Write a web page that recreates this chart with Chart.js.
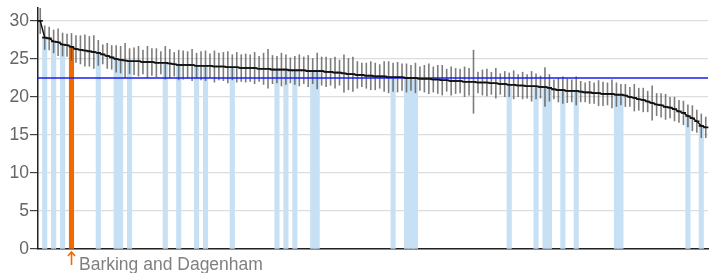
<!DOCTYPE html>
<html>
<head>
<meta charset="utf-8">
<script src="https://cdn.jsdelivr.net/npm/chart.js@4.4.1/dist/chart.umd.min.js"></script>
<style>
  html, body { margin: 0; padding: 0; background: #fff; }
  #wrap { width: 716px; height: 273px; position: relative; }
</style>
</head>
<body>
<div id="wrap"><canvas id="rateChart"></canvas></div>
<script>
// values per area, sorted high -> low
const rates = [
  30.0, 27.8, 27.7, 27.3, 27.2, 26.9, 26.8, 26.6, 26.3, 26.2,
  26.1, 26.0, 25.9, 25.8, 25.6, 25.4, 25.2, 25.0, 24.9, 24.8,
  24.7, 24.7, 24.7, 24.6, 24.6, 24.6, 24.5, 24.5, 24.5, 24.4,
  24.3, 24.2, 24.2, 24.2, 24.2, 24.1, 24.1, 24.1, 24.1, 24.0,
  24.0, 24.0, 23.9, 23.9, 23.9, 23.8, 23.8, 23.8, 23.8, 23.7,
  23.7, 23.7, 23.6, 23.6, 23.6, 23.6, 23.5, 23.5, 23.5, 23.5,
  23.4, 23.4, 23.4, 23.4, 23.3, 23.3, 23.2, 23.2, 23.1, 23.0,
  23.0, 22.9, 22.9, 22.8, 22.8, 22.7, 22.7, 22.7, 22.6, 22.6,
  22.6, 22.6, 22.5, 22.5, 22.5, 22.4, 22.4, 22.4, 22.3, 22.3,
  22.2, 22.2, 22.1, 22.1, 22.1, 22.0, 22.0, 22.0, 21.9, 21.9,
  21.9, 21.8, 21.8, 21.7, 21.7, 21.6, 21.6, 21.5, 21.5, 21.4,
  21.4, 21.4, 21.3, 21.3, 21.2, 21.0, 20.9, 20.9, 20.8, 20.8,
  20.8, 20.7, 20.6, 20.6, 20.5, 20.5, 20.4, 20.4, 20.4, 20.3,
  20.3, 20.2, 20.0, 19.9, 19.7, 19.6, 19.4, 19.2, 19.0, 18.9,
  18.7, 18.6, 18.4, 18.1, 17.9, 17.5, 17.2, 16.8, 16.2, 16.0
];

// half width of each interval
const margins = [
  1.7, 1.6, 1.55, 1.55, 1.8, 1.55, 1.5, 1.8, 1.8, 1.9,
  2.1, 2.0, 2.2, 1.7, 1.3, 1.7, 1.6, 1.8, 1.8, 2.3,
  1.7, 1.8, 2.0, 1.6, 2.1, 1.8, 1.9, 1.5, 2.2, 1.9,
  1.6, 2.0, 1.9, 1.8, 2.1, 1.7, 1.9, 2.0, 1.6, 2.1,
  1.8, 1.9, 2.1, 1.7, 2.0, 1.8, 1.9, 1.8, 2.1, 1.7,
  2.1, 2.6, 1.9, 1.8, 2.2, 2.0, 1.7, 1.9, 2.1, 1.8,
  2.1, 1.7, 2.4, 1.9, 2.0, 1.8, 2.1, 1.7, 2.5, 2.1,
  2.3, 1.8, 1.6, 1.7, 1.9, 1.8, 1.6, 2.0, 2.1, 1.9,
  2.0, 1.8, 1.9, 1.7, 2.0, 1.6, 1.8, 2.0, 1.7, 1.9,
  2.0, 1.5, 1.9, 1.7, 1.6, 2.0, 1.8, 4.2, 1.4, 1.7,
  1.8, 1.5, 2.0, 1.4, 1.7, 1.6, 1.9, 1.5, 1.8, 1.6,
  2.0, 1.7, 1.5, 2.6, 1.8, 1.3, 1.6, 1.8, 1.6, 1.5,
  1.9, 1.4, 1.3, 1.5, 1.4, 1.7, 1.6, 1.5, 1.9, 1.6,
  1.4, 1.5, 1.3, 1.8, 1.5, 1.6, 1.4, 2.3, 1.5, 1.6,
  1.7, 1.4, 1.6, 1.5, 1.6, 1.5, 1.7, 1.5, 1.6, 1.4
];

// areas shown with a bar
const comparators = [
  1, 3, 5, 13, 17, 18, 20, 28, 31, 35, 37, 43, 53, 55, 57, 61, 62,
  79, 82, 83, 84, 105, 111, 113, 114, 117, 120, 129, 130, 145, 148
];

const focusArea = "Barking and Dagenham";
const focusIndex = 7;
const average = 22.5;
const yTicks = [0, 5, 10, 15, 20, 25, 30];
const yMax = 31.7;

const labels = rates.map((v, i) =>
  i === focusIndex ? focusArea : "area " + (i + 1)
);

const barColors = rates.map((v, i) => {
  if (i === focusIndex) return "#f06a00";
  if (comparators.includes(i)) return "#c8e0f4";
  return "rgba(0,0,0,0)";
});

/* =====================================
   error bars + average line
===================================== */
const extras = {
  id: "extras",
  afterDatasetDraw(chart, args) {
    if (args.index !== 0) return;
    const { ctx, chartArea } = chart;
    const x = chart.scales.x;
    const y = chart.scales.y;

    ctx.save();
    ctx.strokeStyle = "rgba(70,70,70,0.7)";
    ctx.lineWidth = 1.6;
    rates.forEach((v, i) => {
      const px = x.getPixelForValue(i);
      ctx.beginPath();
      ctx.moveTo(px, y.getPixelForValue(v - margins[i]));
      ctx.lineTo(px, y.getPixelForValue(v + margins[i]));
      ctx.stroke();
    });

    const py = y.getPixelForValue(average);
    ctx.strokeStyle = "#1c1cf0";
    ctx.lineWidth = 1.5;
    ctx.beginPath();
    ctx.moveTo(chartArea.left, py);
    ctx.lineTo(chartArea.right, py);
    ctx.stroke();
    ctx.restore();
  },
  afterDraw(chart) {
    // arrow + name under the highlighted bar
    const { ctx, chartArea } = chart;
    const px = chart.scales.x.getPixelForValue(focusIndex);
    const top = chartArea.bottom + 3;

    ctx.save();
    ctx.strokeStyle = "#f06a00";
    ctx.lineWidth = 1.6;
    ctx.beginPath();
    ctx.moveTo(px, top + 13);
    ctx.lineTo(px, top);
    ctx.moveTo(px - 3.5, top + 4);
    ctx.lineTo(px, top);
    ctx.lineTo(px + 3.5, top + 4);
    ctx.stroke();

    ctx.fillStyle = "#808080";
    ctx.font = "17.5px 'Liberation Sans', Arial, sans-serif";
    ctx.textBaseline = "alphabetic";
    ctx.fillText(focusArea, px + 7.5, 269.5);
    ctx.restore();
  }
};

const ctx = document.getElementById("rateChart").getContext("2d");

const chart = new Chart(ctx, {
  type: "bar",
  data: {
    labels: labels,
    datasets: [
      {
        type: "bar",
        data: rates,
        backgroundColor: barColors,
        barPercentage: 1,
        categoryPercentage: 1,
        order: 2
      },
      {
        type: "line",
        data: rates,
        borderColor: "#111",
        borderWidth: 1.5,
        pointStyle: "line",
        pointRadius: 2.6,
        pointBorderWidth: 1.6,
        pointBorderColor: "#111",
        tension: 0,
        order: 1
      }
    ]
  },
  options: {
    responsive: true,
    maintainAspectRatio: false,
    animation: false,
    layout: {
      padding: { top: 8, right: 8, bottom: 24, left: 0 }
    },
    plugins: {
      legend: { display: false },
      tooltip: { enabled: false }
    },
    scales: {
      x: {
        offset: true,
        grid: { display: false, drawTicks: false },
        ticks: { display: false },
        border: { display: true, color: "#222", width: 1.5 },
        afterFit: s => { s.height = 0; }
      },
      y: {
        min: 0,
        max: yMax,
        ticks: {
          stepSize: 5,
          padding: 1,
          color: "#666",
          font: { size: 17.5, family: "'Liberation Sans', Arial, sans-serif" }
        },
        grid: {
          color: "#dddddd",
          lineWidth: 1.2,
          tickLength: 8,
          tickColor: "#444",
          tickWidth: 1.2
        },
        border: { display: true, color: "#222", width: 1.5 },
        afterBuildTicks: s => {
          s.ticks = yTicks.map(v => ({ value: v }));
        },
        afterFit: s => {
          s.width = 38;
          s.paddingTop = 0;
          s.paddingBottom = 0;
        }
      }
    }
  },
  plugins: [extras]
});
</script>
</body>
</html>
